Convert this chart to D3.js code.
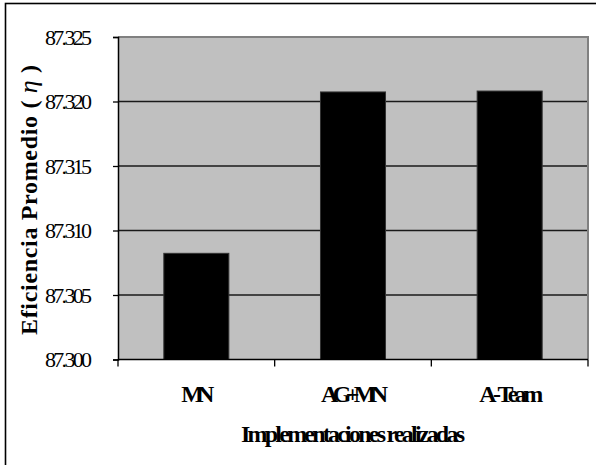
<!DOCTYPE html>
<html>
<head>
<meta charset="utf-8">
<script src="https://cdn.jsdelivr.net/npm/d3@7"></script>
<style>
  html, body { margin: 0; padding: 0; background: #fff; }
  svg { display: block; }
</style>
</head>
<body>
<svg id="chart" width="596" height="465"></svg>
<script>
// Average efficiency per implementation
const categories = ["MN", "AG+MN", "A-Team"];
const values = [87.30823, 87.32074, 87.32081];
const yTicks = [87.300, 87.305, 87.310, 87.315, 87.320, 87.325];

const svg = d3.select("#chart");
const W = 596, H = 465;
const plot = { left: 118, top: 37, right: 588, bottom: 359.5 };
const serif = "'Liberation Serif', 'Times New Roman', serif";

// Outer chart frame (extends past the right and bottom edges)
svg.append("rect")
  .attr("x", 5.5).attr("y", 3.5)
  .attr("width", W + 20).attr("height", H + 20)
  .attr("fill", "#fff").attr("stroke", "#000").attr("stroke-width", 1.6);

const x = d3.scaleBand().domain(categories)
  .range([plot.left, plot.right]).paddingInner(0.585).paddingOuter(0.2925);
const y = d3.scaleLinear().domain([87.300, 87.325]).range([plot.bottom, plot.top]);

// Plot background
svg.append("rect")
  .attr("x", plot.left).attr("y", plot.top)
  .attr("width", plot.right - plot.left).attr("height", plot.bottom - plot.top)
  .attr("fill", "#c0c0c0");

// Horizontal gridlines
svg.append("g")
  .selectAll("line")
  .data(yTicks.slice(1, -1))
  .join("line")
  .attr("x1", plot.left).attr("x2", plot.right)
  .attr("y1", d => y(d)).attr("y2", d => y(d))
  .attr("stroke", "#1a1a1a").attr("stroke-width", 1.5);

// Plot border top/right
svg.append("path")
  .attr("d", `M${plot.left},${plot.top}H${plot.right}V${plot.bottom}`)
  .attr("fill", "none").attr("stroke", "#808080").attr("stroke-width", 2);

// Bars
svg.append("g")
  .selectAll("rect")
  .data(values)
  .join("rect")
  .attr("x", (d, i) => x(categories[i]))
  .attr("width", x.bandwidth())
  .attr("y", d => y(d))
  .attr("height", d => y(87.300) - y(d))
  .attr("fill", "#000")
  .attr("stroke", "#333").attr("stroke-width", 1);

// Y axis
const yAxis = svg.append("g")
  .attr("transform", `translate(${plot.left},0)`)
  .call(d3.axisLeft(y).tickValues(yTicks).tickSize(5).tickPadding(21).tickFormat(d3.format(".3f")));
yAxis.select(".domain").attr("stroke", "#000").attr("stroke-width", 1.5);
yAxis.selectAll(".tick line").attr("stroke", "#000").attr("stroke-width", 1.3);
yAxis.selectAll(".tick text")
  .attr("font-family", serif).attr("font-size", 22).attr("fill", "#000")
  .attr("dy", "0.33em")
  .attr("textLength", 47).attr("lengthAdjust", "spacing");

// X axis (ticks at category boundaries)
const xAxis = svg.append("g")
  .attr("transform", `translate(0,${plot.bottom})`);
xAxis.append("line")
  .attr("x1", plot.left).attr("x2", plot.right)
  .attr("stroke", "#000").attr("stroke-width", 1.5);
const step = x.step();
xAxis.selectAll("line.tk")
  .data(d3.range(0, categories.length + 1))
  .join("line").attr("class", "tk")
  .attr("x1", i => plot.left + i * step).attr("x2", i => plot.left + i * step)
  .attr("y1", 0).attr("y2", 7)
  .attr("stroke", "#000").attr("stroke-width", 1.3);

const catWidths = { "MN": 33, "AG+MN": 67, "A-Team": 64 };
xAxis.selectAll("text")
  .data(categories)
  .join("text")
  .attr("x", d => x(d) + x.bandwidth() / 2 + 1.5)
  .attr("y", 42.5)
  .attr("text-anchor", "middle")
  .attr("font-family", serif).attr("font-weight", "bold").attr("font-size", 24)
  .attr("textLength", d => catWidths[d]).attr("lengthAdjust", "spacing")
  .text(d => d);

// Axis titles
svg.append("text")
  .attr("x", (plot.left + plot.right) / 2)
  .attr("y", 441.5)
  .attr("text-anchor", "middle")
  .attr("font-family", serif).attr("font-weight", "bold").attr("font-size", 24)
  .attr("textLength", 224).attr("lengthAdjust", "spacing")
  .text("Implementaciones realizadas");

const yt = svg.append("text")
  .attr("transform", "translate(37,200) rotate(-90)")
  .attr("text-anchor", "middle")
  .attr("font-family", serif).attr("font-weight", "bold").attr("font-size", 24)
  .attr("textLength", 270).attr("lengthAdjust", "spacing");
yt.append("tspan").text("Eficiencia Promedio ( ");
yt.append("tspan").attr("font-style", "italic").attr("font-weight", "normal").attr("font-size", 26).text("η");
yt.append("tspan").text(" )");
</script>
</body>
</html>
